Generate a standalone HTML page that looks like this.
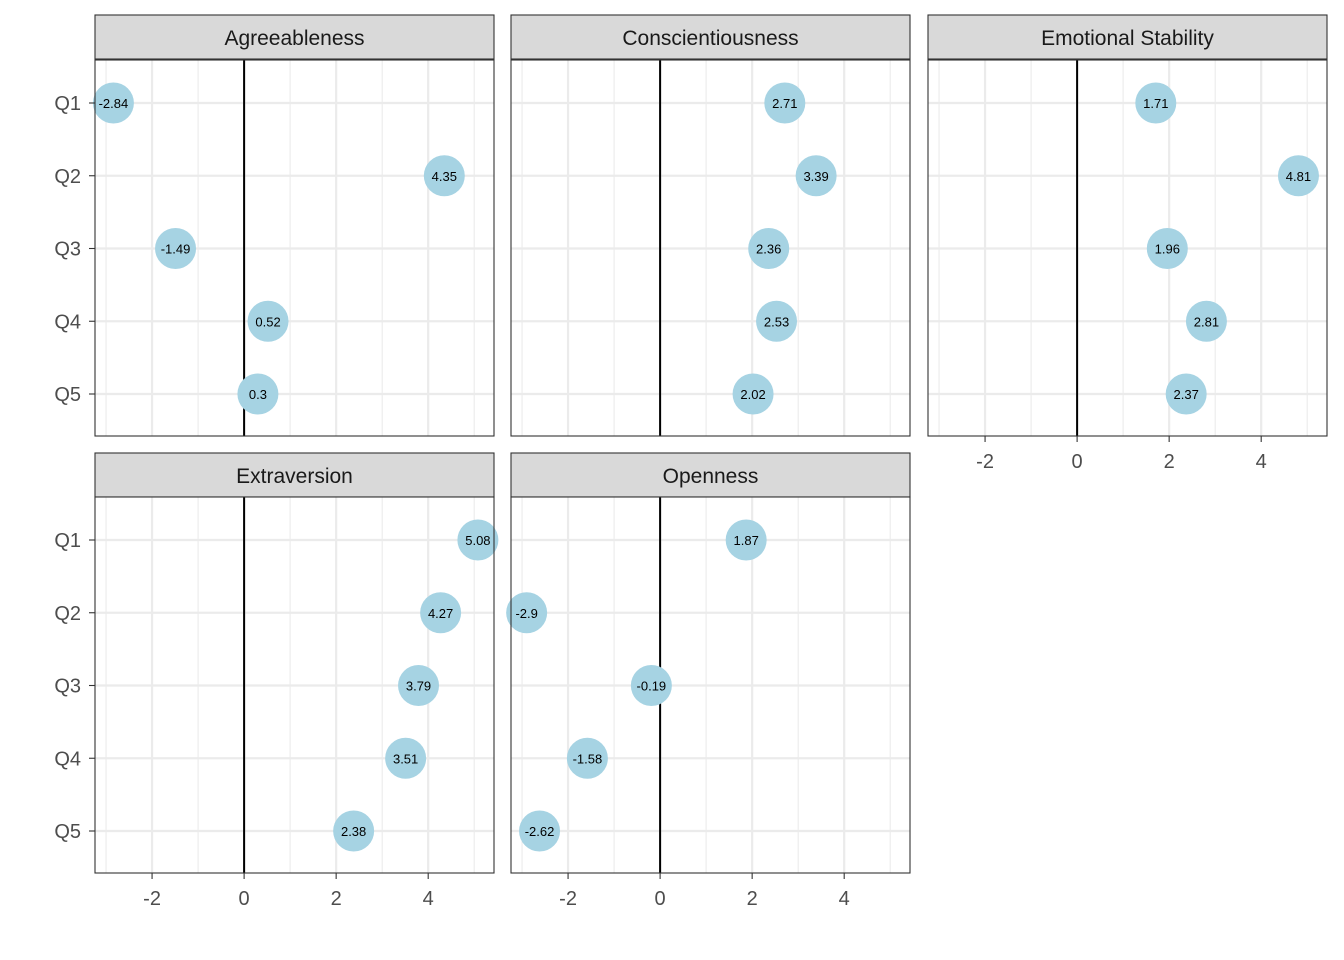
<!DOCTYPE html>
<html><head><meta charset="utf-8"><style>body{margin:0;background:#fff}svg{display:block;font-family:"Liberation Sans",Arial,sans-serif}</style></head>
<body>
<svg id="chart" width="1344" height="960"></svg>
<script>
const facets = ["Agreeableness","Conscientiousness","Emotional Stability","Extraversion","Openness"];
const questions = ["Q1","Q2","Q3","Q4","Q5"];
const valsAgree = [-2.84,4.35,-1.49,0.52,0.3];
const valsConsc = [2.71,3.39,2.36,2.53,2.02];
const valsEmo = [1.71,4.81,1.96,2.81,2.37];
const valsExtra = [5.08,4.27,3.79,3.51,2.38];
const valsOpen = [1.87,-2.9,-0.19,-1.58,-2.62];
const xTicks = [-2,0,2,4];
const xMinor = [-3,-1,1,3,5];
const allVals = [valsAgree,valsConsc,valsEmo,valsExtra,valsOpen];

const svg = document.getElementById('chart');
const NS = 'http://www.w3.org/2000/svg';
function mk(tag, attrs, parent){const e=document.createElementNS(NS,tag);for(const k in attrs)e.setAttribute(k,attrs[k]);(parent||svg).appendChild(e);return e;}
const cols=[95,511,928], W=399, rows=[{s:15,p:60},{s:453,p:497}], PH=376;
const xMin=-3.24, xMax=5.43;
function xs(px,v){return px+(v-xMin)/(xMax-xMin)*W;}
function ys(py,i){return py+43+i*72.75;}
function q(i){return questions[i].toLowerCase();}
facets.forEach((f,k)=>{
  const c=k%3, r=Math.floor(k/3), px=cols[c], sy=rows[r].s, py=rows[r].p;
  const g=mk('g',{});
  
  
  const strip=mk('rect',{x:px,y:sy,width:W,height:44,fill:'#d9d9d9',stroke:'#333','stroke-width':1.1},g);
  
  const st=mk('text',{x:px+W/2,y:sy+30,'text-anchor':'middle','font-size':21,fill:'#1a1a1a'},g);st.textContent=f;
  
  mk('rect',{x:px,y:py,width:W,height:PH,fill:'#fff'},g);
  xMinor.forEach(v=>mk('line',{x1:xs(px,v),x2:xs(px,v),y1:py,y2:py+PH,stroke:'#ebebeb','stroke-width':1.1},g));
  xTicks.forEach(v=>mk('line',{x1:xs(px,v),x2:xs(px,v),y1:py,y2:py+PH,stroke:'#ebebeb','stroke-width':2.2},g));
  questions.forEach((qq,i)=>mk('line',{x1:px,x2:px+W,y1:ys(py,i),y2:ys(py,i),stroke:'#ebebeb','stroke-width':2.2},g));
  mk('line',{x1:xs(px,0),x2:xs(px,0),y1:py,y2:py+PH,stroke:'#000','stroke-width':2},g);
  allVals[k].forEach((v,i)=>{
    const cx=xs(px,v),cy=ys(py,i);
    const p=mk('circle',{cx:cx,cy:cy,r:20.5,fill:'#a6d3e3'},g);
    
    const t=mk('text',{x:cx,y:cy+5,'text-anchor':'middle','font-size':13,fill:'#000'},g);t.textContent=String(v);
    
  });
  mk('rect',{x:px,y:py,width:W,height:PH,fill:'none',stroke:'#333','stroke-width':1.1},g);
  if(c===0){questions.forEach((qq,i)=>{
    mk('line',{x1:px-6,x2:px,y1:ys(py,i),y2:ys(py,i),stroke:'#333','stroke-width':1.1},g);
    const t=mk('text',{x:px-14,y:ys(py,i)+7,'text-anchor':'end','font-size':20,fill:'#4d4d4d'},g);t.textContent=qq;
    
  });}
  if(r===1||c===2){xTicks.forEach(v=>{
    mk('line',{x1:xs(px,v),x2:xs(px,v),y1:py+PH,y2:py+PH+6,stroke:'#333','stroke-width':1.1},g);
    const t=mk('text',{x:xs(px,v),y:py+PH+32,'text-anchor':'middle','font-size':20,fill:'#4d4d4d'},g);t.textContent=String(v);
    
  });}
});
</script>
</body></html>
